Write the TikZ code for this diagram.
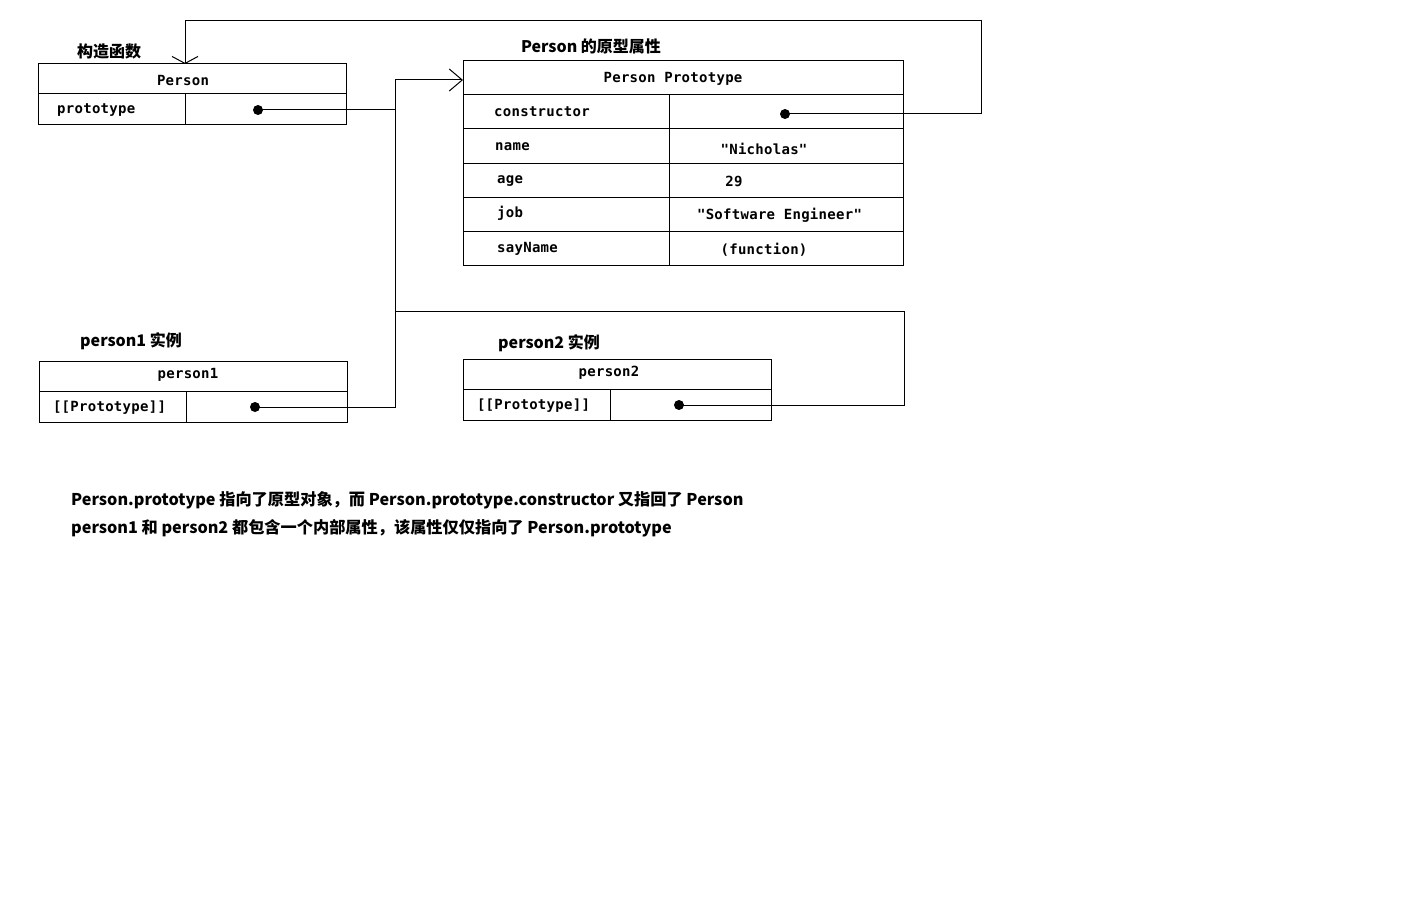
\documentclass[tikz,border=0pt]{standalone}
\usepackage{fontspec}
\setmainfont{Noto Sans CJK SC}
\newfontfamily\cjk{Noto Sans CJK SC}
\newfontfamily\boxfont[LetterSpace=2]{DejaVu Sans Mono}
\usetikzlibrary{arrows.meta}
\begin{document}
\begin{tikzpicture}[x=1pt,y=-1pt,
  cell/.style={draw,line width=1pt,inner sep=0pt,minimum height=#1},
  btxt/.style={inner sep=0pt,font=\boxfont\bfseries\fontsize{14}{16}\selectfont},
  ltxt/.style={btxt,anchor=west},
  title/.style={inner sep=0pt,font=\cjk\bfseries\fontsize{16}{19}\selectfont},
  note/.style={inner sep=0pt,anchor=west,font=\cjk\bfseries\fontsize{16.2}{19}\selectfont},
  dotn/.style={circle,fill,inner sep=0pt,minimum size=10pt},
  wire/.style={line width=1pt},
  barbA/.style={-{Straight Barb[length=7pt,width=26pt,line width=1pt]}},
  barbB/.style={-{Straight Barb[length=13pt,width=22pt,line width=1pt]}}
]
\useasboundingbox (0,0) rectangle (1421,923);
\fill[white] (0,0) rectangle (1421,923);

% ---- Person (constructor) box
\node[cell=30pt,minimum width=308pt] (pH) at (192,79) {};
\node[cell=31pt,minimum width=147pt] (pL) at (111.5,109.5) {};
\node[cell=31pt,minimum width=161pt] (pR) at (265.5,109.5) {};
\node[btxt] (pHt) at (183,80) {Person};
\node[ltxt] (pLt) at (57,110) {prototype};
\node[dotn] (dotP) at (258,110) {};
\node[title] (lblP) at (109,51) {构造函数};

% ---- Person Prototype box
\node[cell=34pt,minimum width=440pt] (qH) at (683,78) {};
\node[btxt] (qHt) at (673,79) {Person Prototype};
\foreach \i/\y in {1/112,2/146,3/180,4/214,5/248}{
  \node[cell=34pt,minimum width=206pt] (qL\i) at (566,\y) {};
  \node[cell=34pt,minimum width=234pt] (qR\i) at (786,\y) {};
}
\node[ltxt] (k1) at (494,112) {constructor};
\node[ltxt] (k2) at (495,147) {name};
\node[ltxt] (k3) at (497,181) {age};
\node[ltxt] (k4) at (497,213) {job};
\node[ltxt] (k5) at (497,249) {sayName};
\node[btxt] (v2) at (764,149) {"Nicholas"};
\node[btxt] (v3) at (734,181) {29};
\node[btxt] (v4) at (779.5,215) {"Software Engineer"};
\node[btxt] (v5) at (764,250) {(function)};
\node[dotn] (dotC) at (785,114) {};
\node[title] (lblQ) at (591,46) {Person 的原型属性};

% ---- person1 box
\node[cell=30pt,minimum width=308pt] (aH) at (193,376) {};
\node[cell=31pt,minimum width=147pt] (aL) at (112.5,406.5) {};
\node[cell=31pt,minimum width=161pt] (aR) at (266.5,406.5) {};
\node[btxt] (aHt) at (188,375) {person1};
\node[btxt] (aLt) at (109.5,408) {[[Prototype]]};
\node[dotn] (dot1) at (255,407) {};
\node[title] (lblA) at (131,341) {person1 实例};

% ---- person2 box
\node[cell=30pt,minimum width=308pt] (bH) at (617,374) {};
\node[cell=31pt,minimum width=147pt] (bL) at (536.5,404.5) {};
\node[cell=31pt,minimum width=161pt] (bR) at (690.5,404.5) {};
\node[btxt] (bHt) at (609,373) {person2};
\node[btxt] (bLt) at (533.5,406) {[[Prototype]]};
\node[dotn] (dot2) at (679,405) {};
\node[title] (lblB) at (549,343) {person2 实例};

% ---- connectors
\coordinate (j1) at (395,110);
\coordinate (j2) at (395,311);
\coordinate (tgtQ) at (463,80);
\coordinate (c1) at (981,114);
\coordinate (c2) at (981,21);
\coordinate (c3) at (185,21);
\coordinate (tgtP) at (185,64);
\coordinate (d1) at (904,405);
\coordinate (d2) at (904,311);

\draw[wire,barbB] (dotP.center) -- (j1) |- (tgtQ);
\draw[wire] (dot1.center) -| (j1);
\draw[wire] (dot2.center) -- (d1) -- (d2) -- (j2);
\draw[wire,barbA] (dotC.center) -- (c1) -- (c2) -- (c3) -- (tgtP);

% ---- notes
\node[note] (n1) at (71,500) {Person.prototype 指向了原型对象，而 Person.prototype.constructor 又指回了 Person};
\node[note] (n2) at (71,528) {person1 和 person2 都包含一个内部属性，该属性仅仅指向了 Person.prototype};
\end{tikzpicture}
\end{document}
